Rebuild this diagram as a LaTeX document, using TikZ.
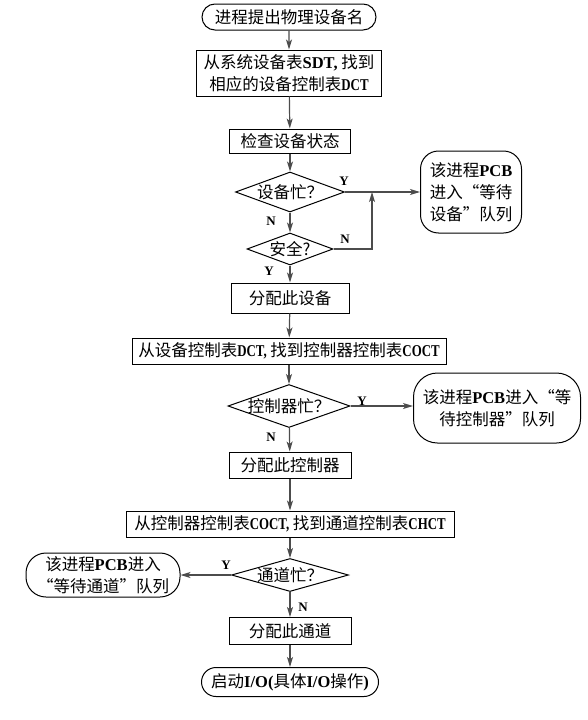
\documentclass[tikz,border=0pt]{standalone}
\usepackage{fontspec}
\setmainfont{Noto Sans CJK SC}
\newfontfamily\latf{Liberation Serif}[FakeStretch=0.78]
\newfontfamily\latn{Liberation Serif}
\usetikzlibrary{shapes.geometric,shapes.misc,arrows.meta}
\newcommand\la[1]{{\latf\bfseries #1}}
\newcommand\lnorm[1]{{\latn\bfseries #1}}
\begin{document}
\begin{tikzpicture}[x=1pt,y=-1pt,
  txt/.style={font=\fontsize{16.5}{22}\selectfont},
  procbox/.style={txt, draw, line width=1pt, inner sep=0pt, minimum height=26pt},
  termbox/.style={txt, draw, line width=1pt, rounded rectangle, inner sep=0pt, minimum height=26pt},
  waitbox/.style={txt, draw, line width=1pt, rounded corners=18pt, inner sep=0pt, align=center},
  decbox/.style={draw, line width=1pt, diamond, inner sep=0pt, label={[txt]center:#1}},
  flow/.style={draw=black!70, line width=1.2pt, -{Stealth[length=10pt,width=6pt,inset=2.5pt]}},
  yn/.style={font=\latn\bfseries\fontsize{13}{13}\selectfont, inner sep=0pt}
]
\useasboundingbox (0,0) rectangle (587,720);

\node[termbox, minimum width=174pt] (start) at (289,17) {进程提出物理设备名};
\node[procbox, minimum width=185pt, minimum height=46pt, align=center] (sdt) at (289,73)
  {从系统设备表\lnorm{SDT,} 找到\\相应的设备控制表\la{DCT}};
\node[procbox, minimum width=121pt, minimum height=24pt] (check) at (290,141) {检查设备状态};
\node[decbox={设备忙？}, minimum width=109pt, minimum height=40pt] (busy1) at (290,192) {};
\node[decbox={安全?}, minimum width=86pt, minimum height=32pt] (safe) at (290,249) {};
\node[waitbox, minimum width=101pt, minimum height=82pt] (wait1) at (471,192)
  {该进程\lnorm{PCB}\\进入“等待\\设备”队列};
\coordinate (join) at (372,192);

\node[procbox, minimum width=118pt, minimum height=30pt] (alloc1) at (290,298) {分配此设备};
\node[procbox, minimum width=314pt] (dct) at (289,351) {从设备控制表\la{DCT,} 找到控制器控制表\la{COCT}};
\node[decbox={控制器忙？}, minimum width=122pt, minimum height=43pt] (busy2) at (289,406) {};
\node[waitbox, minimum width=167pt, minimum height=70pt, rounded corners=24pt] (wait2) at (497,408)
  {该进程\lnorm{PCB}进入“等\\待控制器”队列};

\node[procbox, minimum width=122pt, minimum height=26pt] (alloc2) at (290,465) {分配此控制器};
\node[procbox, minimum width=328pt] (coct) at (290,524) {从控制器控制表\la{COCT,} 找到通道控制表\la{CHCT}};
\node[decbox={通道忙？}, minimum width=117pt, minimum height=33pt] (busy3) at (290,575) {};
\node[waitbox, minimum width=154pt, minimum height=44pt, rounded corners=20pt] (wait3) at (103,575)
  {该进程\lnorm{PCB}进入\\“等待通道”队列};

\node[procbox, minimum width=122pt, minimum height=27pt] (alloc3) at (290,631) {分配此通道};
\node[termbox, minimum width=177pt, minimum height=29pt] (end) at (290,682) {启动\lnorm{I/O(}具体\lnorm{I/O}操作\lnorm{)}};

\draw[flow] (start) -- (sdt);
\draw[flow] (sdt) -- (check);
\draw[flow] (check) -- (busy1);
\draw[flow] (busy1) -- (safe);
\draw[flow] (busy1.east) -- (wait1.west);
\draw[flow] (safe.east) -| (join);
\draw[flow] (safe) -- (alloc1);
\draw[flow] (alloc1) -- (dct);
\draw[flow] (dct) -- (busy2);
\draw[flow] (busy2.east) -- (busy2.east -| wait2.west);
\draw[flow] (busy2) -- (alloc2);
\draw[flow] (alloc2) -- (coct);
\draw[flow] (coct) -- (busy3);
\draw[flow] (busy3.west) -- (wait3.east);
\draw[flow] (busy3) -- (alloc3);
\draw[flow] (alloc3) -- (end);

\node[yn] (y1) at (344,181) {Y};
\node[yn] (n1) at (271,221) {N};
\node[yn] (n2) at (345,239) {N};
\node[yn] (y2) at (269,271) {Y};
\node[yn] (y3) at (362,401) {Y};
\node[yn] (n3) at (271,437) {N};
\node[yn] (y4) at (226,565) {Y};
\node[yn] (n4) at (303,607) {N};
\end{tikzpicture}
\end{document}
